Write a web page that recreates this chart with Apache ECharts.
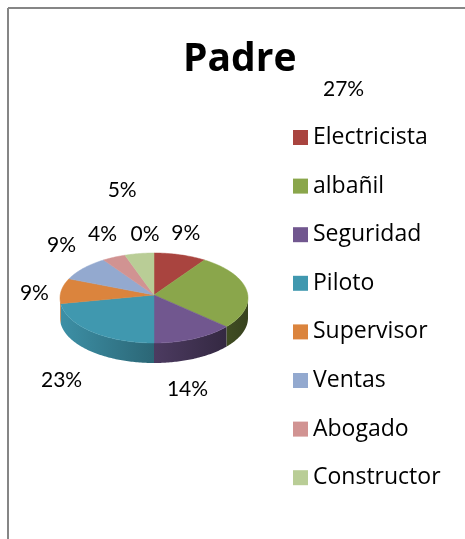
<!DOCTYPE html>
<html><head><meta charset="utf-8">
<script src="https://cdn.jsdelivr.net/npm/echarts@6/dist/echarts.min.js"></script>
<style>html,body{margin:0;padding:0;background:#fff}#c{width:465px;height:539px}</style>
</head><body><div id="c"></div>
<script>
// ---- data ----
const chartTitle = 'Padre';
const categories = ['Electricista', 'albañil', 'Seguridad', 'Piloto', 'Supervisor', 'Ventas', 'Abogado', 'Constructor', 'Otros'];
const values = [9, 27, 14, 23, 9, 9, 4, 5, 0];
const legendNames = ['Electricista', 'albañil', 'Seguridad', 'Piloto', 'Supervisor', 'Ventas', 'Abogado', 'Constructor'];

// ---- style ----
const colors = ['#A9443F', '#8AA64B', '#71578F', '#4098AF', '#DB843D', '#93A9CF', '#D19392', '#B9CD96', '#7F7F7F'];
const LABEL_FONT = 'Lato, "Open Sans", sans-serif';
const TEXT_FONT = '"Open Sans", Lato, sans-serif';
const G = { cx: 154, cy: 298, apexY: 295, rx: 94, ry: 45, depth: 20, labelGap: 20 };
// label nudges (dx, dy) relative to the computed outside anchor
const labelNudge = [[0, -2], [77, -199], [-15, 12], [-17, 13], [-7, 5], [-7, -10], [-3, -5], [-14, -44], [-9, 1]];

const total = values.reduce((a, b) => a + b, 0);
const cum = [0];
values.forEach(v => cum.push(cum[cum.length - 1] + v));

function pt(phi, dy) { return [G.cx + G.rx * Math.sin(phi), G.cy - G.ry * Math.cos(phi) + dy]; }
function arc(a, b, dy) {
  const n = Math.max(2, Math.ceil((b - a) / (Math.PI / 180)));
  const pts = [];
  for (let k = 0; k <= n; k++) pts.push(pt(a + (b - a) * k / n, dy));
  return pts;
}
function shade(hex, f) {
  const n = parseInt(hex.slice(1), 16);
  const r = Math.round(((n >> 16) & 255) * f), g = Math.round(((n >> 8) & 255) * f), b = Math.round((n & 255) * f);
  return 'rgb(' + r + ',' + g + ',' + b + ')';
}

function renderItem(params, api) {
  const i = params.dataIndex;
  const v = api.value(0);
  const a = cum[i] / total * 2 * Math.PI;
  const b = (cum[i] + v) / total * 2 * Math.PI;
  const c = colors[i];
  const children = [];
  const s = Math.max(a, Math.PI / 2), e = Math.min(b, 3 * Math.PI / 2);
  if (e > s) {
    const top = arc(s, e, 0), bot = arc(s, e, G.depth).reverse();
    children.push({
      type: 'polygon', z2: 1, shape: { points: top.concat(bot) },
      style: {
        fill: new echarts.graphic.LinearGradient(G.cx - G.rx, 0, G.cx + G.rx, 0,
          [{ offset: 0, color: shade(c, 0.95) }, { offset: 1, color: shade(c, 0.4) }], true),
        stroke: null
      }
    });
  }
  if (b > a) {
    children.push({
      type: 'polygon', z2: 2, shape: { points: [[G.cx, G.apexY]].concat(arc(a, b, 0)) },
      style: { fill: c, stroke: c, lineWidth: 0.5 }
    });
  }
  const m = (a + b) / 2;
  const front = Math.cos(m) < 0 ? G.depth : 0;
  const lx = G.cx + (G.rx + G.labelGap) * Math.sin(m) + labelNudge[i][0];
  const ly = G.cy - (G.ry + G.labelGap) * Math.cos(m) + front + labelNudge[i][1];
  children.push({
    type: 'text', z2: 5,
    style: {
      text: Math.round(v / total * 100) + '%', x: lx, y: ly,
      align: 'center', verticalAlign: 'middle',
      font: '21px ' + LABEL_FONT, fill: '#000'
    }
  });
  return { type: 'group', children: children };
}

const chart = echarts.init(document.getElementById('c'), null, { renderer: 'canvas' });
chart.setOption({
  animation: false,
  backgroundColor: '#fff',
  title: {
    text: chartTitle, left: 183, top: 40, padding: 0,
    textStyle: { fontFamily: TEXT_FONT, fontWeight: 'bold', fontSize: 39, color: '#000' }
  },
  legend: {
    data: legendNames, orient: 'vertical', left: 293, top: 126, padding: 0,
    itemWidth: 15, itemHeight: 15, itemGap: 25.6, icon: 'rect', selectedMode: false,
    textStyle: { fontFamily: TEXT_FONT, fontSize: 23, color: '#000', lineHeight: 22 }
  },
  graphic: [
    { type: 'line', shape: { x1: 8, y1: 8, x2: 8, y2: 539 }, style: { stroke: '#868686', lineWidth: 2 } },
    { type: 'line', shape: { x1: 8, y1: 8, x2: 465, y2: 8 }, style: { stroke: '#868686', lineWidth: 2 } }
  ],
  series: [
    {
      type: 'pie', radius: [0, 0], center: [G.cx, G.cy], silent: true,
      label: { show: false }, labelLine: { show: false },
      data: categories.map((n, i) => ({ name: n, value: values[i], itemStyle: { color: colors[i] } }))
    },
    {
      type: 'custom', coordinateSystem: 'none', renderItem: renderItem, silent: true,
      data: values.map((v, i) => ({ name: categories[i], value: [v] }))
    }
  ]
});
</script></body></html>
